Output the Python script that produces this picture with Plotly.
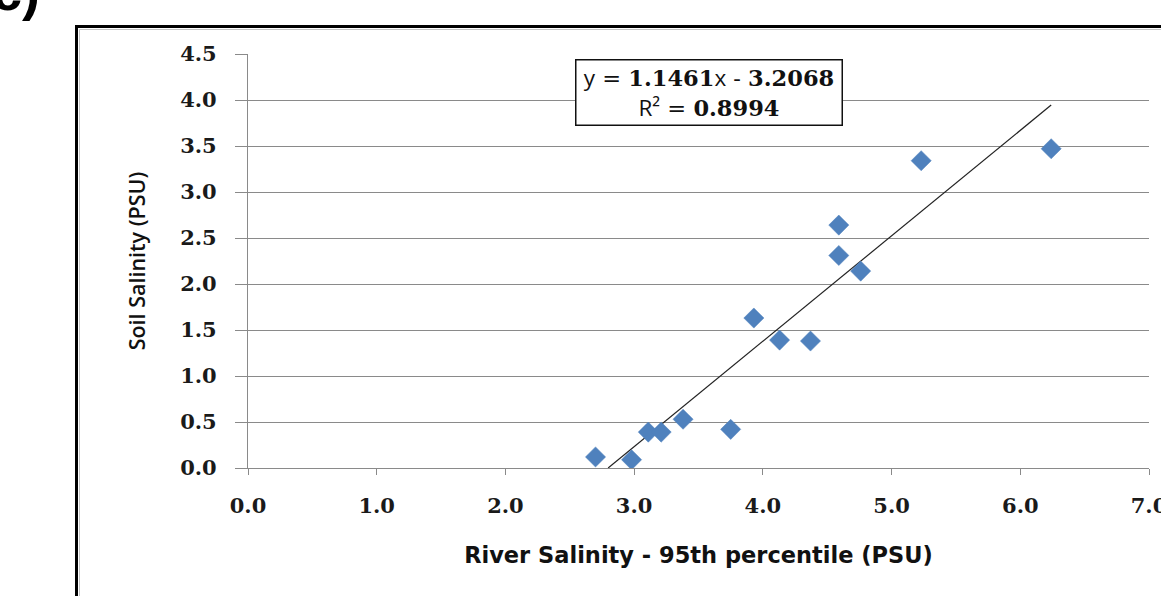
import plotly.graph_objects as go

# ---- data ----
river_salinity = [2.70, 2.98, 3.11, 3.21, 3.38, 3.75, 3.93, 4.13, 4.37, 4.59, 4.59, 4.76, 5.23, 6.24]
soil_salinity = [0.12, 0.09, 0.39, 0.39, 0.53, 0.42, 1.63, 1.39, 1.38, 2.64, 2.31, 2.14, 3.34, 3.47]
trend_slope = 1.1461
trend_intercept = -3.2068
r_squared = 0.8994
x_ticks = [0, 1, 2, 3, 4, 5, 6, 7]
y_ticks = [0, 0.5, 1.0, 1.5, 2.0, 2.5, 3.0, 3.5, 4.0, 4.5]

W, H = 1161, 596
L, R, T, B = 248, 12, 54, 128
PW, PH = W - L - R, H - T - B


def px_x(p):
    return (p - L) / PW


def px_y(p):
    return (H - B - p) / PH


# trendline through the fitted equation, clipped at y = 0 like the original
x_start = max(min(river_salinity), -trend_intercept / trend_slope)
x_end = max(river_salinity)
trend_x = [x_start, x_end]
trend_y = [trend_slope * v + trend_intercept for v in trend_x]

fig = go.Figure()
fig.add_trace(go.Scatter(
    x=trend_x, y=trend_y, mode="lines",
    line=dict(color="#222222", width=1.2),
    hoverinfo="skip", showlegend=False,
))
fig.add_trace(go.Scatter(
    x=river_salinity, y=soil_salinity, mode="markers",
    marker=dict(symbol="diamond", size=15.5, color="#4F81BD",
                line=dict(color="#4F81BD", width=0.5)),
    showlegend=False,
))

tick_font = dict(family="DejaVu Serif", size=21, color="#1a1a1a", weight="bold")

fig.update_layout(
    width=W, height=H,
    margin=dict(l=L, r=R, t=T, b=B, pad=0, autoexpand=False),
    paper_bgcolor="white", plot_bgcolor="white",
    xaxis=dict(
        range=[0, 7], tickvals=x_ticks, ticktext=[f"{v:.1f}" for v in x_ticks],
        showgrid=False, zeroline=False, automargin=False,
        showline=True, linecolor="#8a8a8a", linewidth=1.2,
        ticks="outside", ticklen=6, tickcolor="#8a8a8a", tickwidth=1.2,
        tickfont=tick_font, ticklabelstandoff=13, ticklabeloverflow="allow",
        title=dict(text="River Salinity - 95th percentile (PSU)",
                   font=dict(family="DejaVu Sans", size=22.5, color="#111111", weight="bold"),
                   standoff=29),
        fixedrange=True,
    ),
    yaxis=dict(
        range=[0, 4.5], tickvals=y_ticks, ticktext=[f"{v:.1f}" for v in y_ticks],
        showgrid=True, gridcolor="#8a8a8a", gridwidth=1.2, zeroline=False, automargin=False,
        showline=True, linecolor="#8a8a8a", linewidth=1.2,
        ticks="outside", ticklen=12, tickcolor="#8a8a8a", tickwidth=1.2,
        tickfont=tick_font, ticklabelstandoff=14,
        title=dict(text="Soil Salinity (PSU)",
                   font=dict(family="Open Sans", size=21.5, color="#111111", weight=600),
                   standoff=28),
        fixedrange=True,
    ),
)

# outer chart frame (black) and inner light-grey border, running off the right/bottom edge
fig.add_shape(type="rect", xref="paper", yref="paper",
              x0=px_x(76.5), x1=px_x(1175), y0=px_y(620), y1=px_y(26.5),
              line=dict(color="black", width=3), fillcolor="rgba(0,0,0,0)", layer="below")
fig.add_shape(type="rect", xref="paper", yref="paper",
              x0=px_x(79.5), x1=px_x(1175), y0=px_y(620), y1=px_y(29.5),
              line=dict(color="#c4c4c4", width=1), fillcolor="rgba(0,0,0,0)", layer="below")

# regression equation box
sans = "font-family:Open Sans"
eq_text = (
    f"<span style='{sans}'>y</span> = <b>{trend_slope:.4f}</b>"
    f"<span style='{sans}'>x</span> - <b>{abs(trend_intercept):.4f}</b><br>"
    f"<span style='{sans}'>R²</span> = <b>{r_squared:.4f}</b>"
)
fig.add_annotation(
    xref="paper", yref="paper", x=px_x(708.5), y=px_y(92.5),
    xanchor="center", yanchor="middle",
    text=eq_text, showarrow=False, align="center",
    font=dict(family="DejaVu Serif", size=22.5, color="#111111"),
    bgcolor="white", bordercolor="#111111", borderwidth=1.5,
    width=262, height=61, borderpad=1.5,
)

# panel label (cut off by the top edge, as in the original)
fig.add_annotation(
    xref="paper", yref="paper", x=px_x(-10), y=px_y(-9),
    xanchor="left", yanchor="middle",
    text="<b>c)</b>", showarrow=False,
    font=dict(family="Liberation Sans", size=54, color="black"),
)

fig.write_html("out.html")
